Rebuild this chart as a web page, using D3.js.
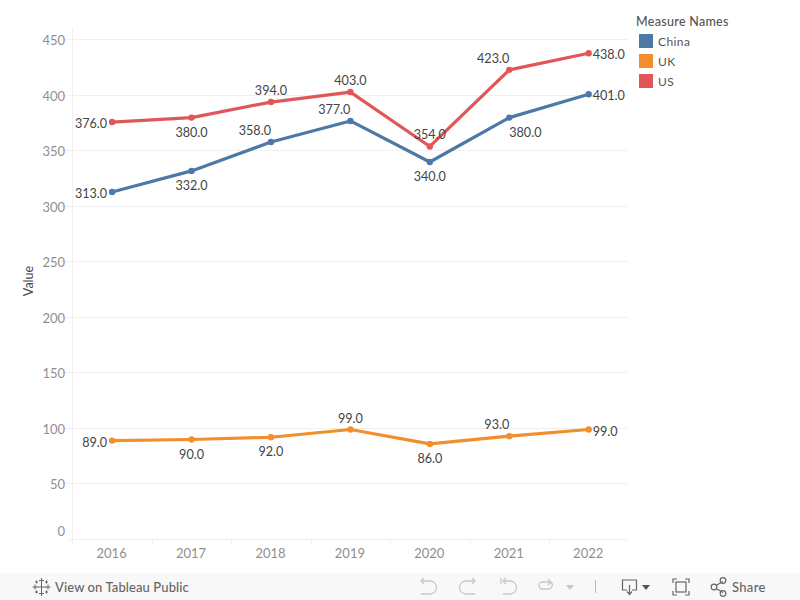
<!DOCTYPE html>
<html><head><meta charset="utf-8">
<script src="https://cdn.jsdelivr.net/npm/d3@7/dist/d3.min.js"></script>
<style>html,body{margin:0;padding:0;background:#fff}svg{display:block}text{font-family:Lato,sans-serif}</style>
</head><body><svg id="c" width="800" height="600"></svg>
<script>
const years = ["2016","2017","2018","2019","2020","2021","2022"];
const china = [313,332,358,377,340,380,401];
const uk = [89,90,92,99,86,93,99];
const us = [376,380,394,403,354,423,438];
const seriesNames = ["China","UK","US"];
const seriesColors = ["#4e79a7","#f28e2b","#e15759"];
const yTicks = [0,50,100,150,200,250,300,350,400,450];
const chinaPlace = ["L","B","AL","AL","B","BR","R"];
const ukPlace = ["L","B","B","A","B","AL","R"];
const usPlace = ["L","B","A","A","A","AL","R"];

const svg = d3.select("#c");
const x = d3.scaleBand().domain(years).range([72.4,628.4]).paddingInner(0).paddingOuter(0);
const y = d3.scaleLinear().domain([0,450]).range([539.4,39.9]);
const grid = "#f0f0f0";

// grid
svg.append("g").selectAll("line").data(yTicks.filter(d=>d>0)).join("line")
  .attr("x1",60).attr("x2",628).attr("y1",d=>Math.floor(y(d))+.5).attr("y2",d=>Math.floor(y(d))+.5)
  .attr("stroke",grid);
svg.append("line").attr("x1",72.5).attr("x2",72.5).attr("y1",27).attr("y2",544).attr("stroke",grid);
svg.append("line").attr("x1",68).attr("x2",628).attr("y1",539.5).attr("y2",539.5).attr("stroke",grid);
svg.append("g").selectAll("line").data(years.slice(1)).join("line")
  .attr("x1",d=>Math.round(x(d))+.5).attr("x2",d=>Math.round(x(d))+.5).attr("y1",539).attr("y2",544).attr("stroke",grid);

// y tick labels
svg.append("g").selectAll("text").data(yTicks).join("text")
  .attr("x",65).attr("y",d=>d===0?531:y(d)+0.8).attr("dy","0.35em").attr("text-anchor","end")
  .attr("font-size",13).attr("fill","#8f8f8f").text(d=>d);
// x tick labels
svg.append("g").selectAll("text").data(years).join("text")
  .attr("x",d=>x(d)+x.bandwidth()/2-.5).attr("y",553).attr("dy","0.35em").attr("text-anchor","middle")
  .attr("font-size",13).attr("fill","#8f8f8f").text(d=>d);
svg.append("text").attr("transform","translate(29,281) rotate(-90)").attr("text-anchor","middle").attr("dy","0.35em")
  .attr("font-size",12.5).attr("fill","#444").text("Value");

const cx = d => x(d)+x.bandwidth()/2;
const line = d3.line().x((v,i)=>cx(years[i])).y(v=>y(v));
const rows = [[china,chinaPlace],[uk,ukPlace],[us,usPlace]];
rows.forEach(([vals,place],s)=>{
  const g = svg.append("g");
  g.append("path").attr("d",line(vals)).attr("fill","none").attr("stroke",seriesColors[s]).attr("stroke-width",3.2).attr("stroke-linejoin","round");
  g.selectAll("circle").data(vals).join("circle").attr("cx",(v,i)=>cx(years[i])).attr("cy",v=>y(v)).attr("r",3.2).attr("fill",seriesColors[s]);
});
const offs = {L:[-5,1.7,"end"],R:[4,1.7,"start"],A:[0,-11.4,"middle"],B:[0,14.6,"middle"],AL:[0,-11.4,"end"],BR:[0,14.6,"start"]};
rows.forEach(([vals,place])=>{
  svg.append("g").selectAll("text").data(vals).join("text")
    .attr("x",(v,i)=>cx(years[i])+offs[place[i]][0])
    .attr("y",(v,i)=>y(v)+offs[place[i]][1])
    .attr("dy","0.35em").attr("text-anchor",(v,i)=>offs[place[i]][2])
    .attr("font-size",12.6).attr("fill","#444").text(v=>v.toFixed(1));
});

// legend
svg.append("text").attr("x",636).attr("y",22).attr("dy","0.35em").attr("font-size",12.5).attr("letter-spacing",0.3).attr("font-weight",500).attr("fill","#555").text("Measure Names");
const lg = svg.append("g").selectAll("g").data(seriesNames).join("g").attr("transform",(d,i)=>`translate(639,${34+i*20})`);
lg.append("rect").attr("width",14).attr("height",14).attr("fill",(d,i)=>seriesColors[i]);
lg.append("text").attr("x",19).attr("y",7.5).attr("dy","0.35em").attr("font-size",12).attr("letter-spacing",0.4).attr("fill","#555").text(d=>d);

// toolbar
const tb = svg.append("g");
tb.append("rect").attr("x",0).attr("y",573).attr("width",800).attr("height",27).attr("fill","#f8f8f8");
const logo = tb.append("g").attr("stroke","#666").attr("stroke-width",1).attr("fill","none");
[[41.5,587,5],[35,587,2.5],[48,587,2.5],[41.5,580.5,2.5],[41.5,593.5,2.5],[36.5,582,1.5],[46.5,582,1.5],[36.5,592,1.5],[46.5,592,1.5]].forEach(([a,b,r])=>{
  logo.append("path").attr("d",`M${a-r} ${b}H${a+r}M${a} ${b-r}V${b+r}`);
});
tb.append("text").attr("x",55).attr("y",587).attr("dy","0.35em").attr("font-size",13).attr("letter-spacing",0.1).attr("font-weight",500).attr("fill","#666").text("View on Tableau Public");
const dis = tb.append("g").attr("fill","none").attr("stroke","#c8c8c8").attr("stroke-width",1.3);
dis.append("path").attr("d","M421 581H430a5.5 5.5 0 0 1 0 13H421M424 578l-3 3 3 3");
dis.append("path").attr("d","M475 581H466a5.5 5.5 0 0 0 0 13H475M472 578l3 3-3 3");
dis.append("path").attr("d","M501 578v6M503 581H510a5.5 5.5 0 0 1 0 13H503M506 578l-3 3 3 3");
dis.append("path").attr("d","M551 582H541a4 4 0 0 0 0 7H548a4 4 0 0 0 3-7M548 579l3 3-3 3");
tb.append("path").attr("d","M566 585h8l-4 5z").attr("fill","#c8c8c8");
tb.append("line").attr("x1",595.5).attr("x2",595.5).attr("y1",580).attr("y2",593).attr("stroke","#bbb");
const act = tb.append("g").attr("fill","none").attr("stroke","#666").attr("stroke-width",1.2);
act.append("path").attr("d","M627 590H622.5V580H636.5V590H632M629.5 585V594M627 591.5l2.5 3 2.5-3");
tb.append("path").attr("d","M642 585h8l-4 5z").attr("fill","#555");
act.append("path").attr("d","M673 583v-4h4M685 579h4v4M689 591v4h-4M677 595h-4v-4");
act.append("rect").attr("x",676).attr("y",582).attr("width",10).attr("height",10);
act.append("path").attr("d","M716 585.5L723 581.5M716 588.5L723 592.5");
act.append("circle").attr("cx",714).attr("cy",587).attr("r",2.8);
act.append("circle").attr("cx",723).attr("cy",580.5).attr("r",2.8);
act.append("circle").attr("cx",723).attr("cy",593.5).attr("r",2.8);
tb.append("text").attr("x",732).attr("y",587).attr("dy","0.35em").attr("font-size",13).attr("letter-spacing",0.3).attr("font-weight",500).attr("fill","#666").text("Share");
</script></body></html>
